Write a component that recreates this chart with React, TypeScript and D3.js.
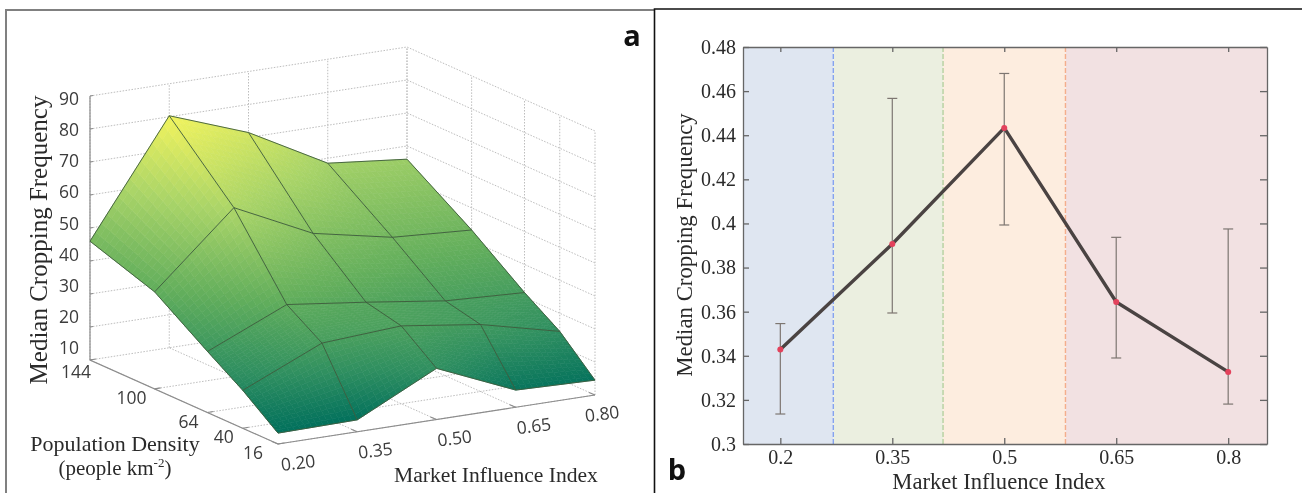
import React, { useEffect, useRef } from 'react';
import * as d3 from 'd3';

// panel a
const marketTicks = [0.2, 0.35, 0.5, 0.65, 0.8];
const densityTicks = [144, 100, 64, 40, 16];
const heightTicks = [10, 20, 30, 40, 50, 60, 70, 80, 90];
const cropping144 = [46, 80.3, 71.5, 58.5, 56];
const cropping100 = [39.4, 61.2, 49.7, 44.8, 43.3];
const cropping64 = [28.5, 39, 36, 32.7, 31.5];
const cropping40 = [21.5, 32.1, 33.6, 30.3, 24.5];
const cropping16 = [13.3, 13.6, 25.5, 15.2, 14.5];
const surfaceRows = [cropping144, cropping100, cropping64, cropping40, cropping16];

// panel b
const medianX = [0.2, 0.35, 0.5, 0.65, 0.8];
const medianY = [0.3428, 0.3907, 0.4433, 0.3644, 0.3327];
const upperY = [0.3546, 0.4567, 0.468, 0.3937, 0.3975];
const lowerY = [0.3136, 0.3594, 0.3993, 0.339, 0.3181];
const yTicksB = [0.3, 0.32, 0.34, 0.36, 0.38, 0.4, 0.42, 0.44, 0.46, 0.48];
const bandEdges = [0.15, 0.271, 0.418, 0.582, 0.852];
const bandFills = ['#dfe6f1', '#ebefe0', '#fdeddf', '#f2e1e2'];
const bandDashes = ['#86a3f0', '#b5d0a0', '#f4ae8c'];

const SERIF = '"Liberation Serif", serif';
const SANS = '"Open Sans", sans-serif';

const App: React.FC = () => {
   const svgRef = useRef<SVGSVGElement | null>(null);

   useEffect(() => {
      if (!svgRef.current) return;
      const svg = d3.select(svgRef.current);
      svg.selectAll('*').remove();

      // frames
      svg.append('path').attr('d', 'M6,493V10H655').attr('fill', 'none').attr('stroke', '#808080').attr('stroke-width', 2);
      svg.append('path').attr('d', 'M654.5,493V9H1302').attr('fill', 'none').attr('stroke', '#111').attr('stroke-width', 1.6);

      drawSurfacePanel(svg.append('g'));
      drawLinePanel(svg.append('g'));
   }, []);

   // the source is a soft raster, hence the slight blur
   return (
      <svg
         ref={svgRef}
         width={1302}
         height={493}
         style={{ position: 'absolute', left: 0, top: 0, background: 'white', filter: 'blur(0.4px)' }}
      />
   );
};

function drawSurfacePanel(g: d3.Selection<SVGGElement, unknown, null, undefined>) {
   // oblique projection, the three box edges leaving the front floor corner
   const origin = { x: 278, y: 444 };
   const alongX = { x: 317, y: -49 };
   const alongY = { x: -188, y: -84 };

   const fx = d3.scaleLinear().domain([0.2, 0.8]).range([0, 1]);
   const fy = d3.scaleLinear().domain([16, 144]).range([0, 1]);
   const fz = d3.scaleLinear().domain([10, 90]).range([0, -264]);

   const project = (x: number, y: number, z: number): [number, number] => [
      origin.x + alongX.x * fx(x) + alongY.x * fy(y),
      origin.y + alongX.y * fx(x) + alongY.y * fy(y) + fz(z),
   ];

   const line = d3.line();
   const dotted = (pts: [number, number][]) =>
      g.append('path')
         .attr('d', line(pts))
         .attr('fill', 'none')
         .attr('stroke', '#bdbdbd')
         .attr('stroke-width', 1)
         .attr('stroke-dasharray', '1.5,1.5');

   // dotted box grid
   heightTicks.slice(1).forEach(z => {
      dotted([project(0.2, 144, z), project(0.8, 144, z), project(0.8, 16, z)]);
   });
   marketTicks.forEach(x => {
      dotted([project(x, 144, 10), project(x, 144, 90)]);
      dotted([project(x, 16, 10), project(x, 144, 10)]);
   });
   densityTicks.forEach(y => {
      dotted([project(0.8, y, 10), project(0.8, y, 90)]);
      dotted([project(0.2, y, 10), project(0.8, y, 10)]);
   });

   // solid axes
   const axisPath = (pts: [number, number][]) =>
      g.append('path')
         .attr('d', line(pts))
         .attr('fill', 'none')
         .attr('stroke', '#8c8c8c')
         .attr('stroke-width', 1.2);
   axisPath([project(0.2, 144, 90), project(0.2, 144, 10), project(0.2, 16, 10), project(0.8, 16, 10)]);
   heightTicks.forEach(z => {
      const [px, py] = project(0.2, 144, z);
      axisPath([[px - 0, py], [px + 3, py - 0.5]]);
   });
   marketTicks.forEach(x => {
      const [px, py] = project(x, 16, 10);
      axisPath([[px, py], [px - 6, py - 2.5]]);
   });
   densityTicks.forEach(y => {
      const [px, py] = project(0.2, y, 10);
      axisPath([[px, py], [px + 6, py - 1]]);
   });

   // summer style colour ramp on the surface height
   const colour = d3.scaleLinear<string>()
      .domain([13, 25, 40, 60, 80])
      .range(['#006f5c', '#2f8f60', '#62ae5c', '#a9d468', '#f1f35e'])
      .clamp(true);

   // shaded cells, back row first, each cell split so the colour runs smoothly
   const steps = 14;
   const surface = g.append('g');
   for (let r = 0; r < densityTicks.length - 1; r++) {
      for (let c = 0; c < marketTicks.length - 1; c++) {
         const corner = (u: number, v: number): [number, number, number] => {
            const x = marketTicks[c] + (marketTicks[c + 1] - marketTicks[c]) * u;
            const y = densityTicks[r] + (densityTicks[r + 1] - densityTicks[r]) * v;
            const z = d3.interpolateNumber(
               d3.interpolateNumber(surfaceRows[r][c], surfaceRows[r][c + 1])(u),
               d3.interpolateNumber(surfaceRows[r + 1][c], surfaceRows[r + 1][c + 1])(u),
            )(v);
            return [x, y, z];
         };
         for (let i = 0; i < steps; i++) {
            for (let j = 0; j < steps; j++) {
               const a = corner(i / steps, j / steps);
               const b = corner((i + 1) / steps, j / steps);
               const d = corner((i + 1) / steps, (j + 1) / steps);
               const e = corner(i / steps, (j + 1) / steps);
               const fill = colour((a[2] + b[2] + d[2] + e[2]) / 4);
               surface.append('path')
                  .attr('d', line([a, b, d, e].map(p => project(p[0], p[1], p[2]))) + 'Z')
                  .attr('fill', fill)
                  .attr('stroke', fill)
                  .attr('stroke-width', 0.6);
            }
         }
      }
   }

   // mesh lines
   const mesh = (pts: [number, number][]) =>
      g.append('path')
         .attr('d', line(pts))
         .attr('fill', 'none')
         .attr('stroke', '#3d5a3c')
         .attr('stroke-opacity', 0.9)
         .attr('stroke-width', 1);
   densityTicks.forEach((y, r) => {
      mesh(marketTicks.map((x, c) => project(x, y, surfaceRows[r][c])));
   });
   marketTicks.forEach((x, c) => {
      mesh(densityTicks.map((y, r) => project(x, y, surfaceRows[r][c])));
   });

   // tick labels
   const sansLabel = (x: number, y: number, txt: string, rotate = 0) =>
      g.append('text')
         .attr('transform', `translate(${x},${y}) rotate(${rotate})`)
         .attr('text-anchor', 'middle')
         .attr('dominant-baseline', 'central')
         .attr('font-family', SANS)
         .attr('font-size', 17.5)
         .attr('fill', '#3c3c3c')
         .text(txt);

   const heightLabel = d3.scaleLinear().domain([10, 90]).range([347, 98]);
   heightTicks.forEach(z => sansLabel(69, heightLabel(z), String(z)));

   const densityDx: Record<number, number> = { 144: -14, 100: -23, 64: -19, 40: -19, 16: -25 };
   densityTicks.forEach(y => {
      const [px, py] = project(0.2, y, 10);
      sansLabel(px + densityDx[y], py + (y === 144 ? 11 : 8), String(y));
   });
   marketTicks.forEach(x => {
      const [px, py] = project(x, 16, 10);
      sansLabel(px + (x === 0.8 ? 7 : x === 0.2 ? 20 : 18), py + 18, x.toFixed(2), -7);
   });

   // titles
   const serifLabel = (x: number, y: number, txt: string, size: number, rotate = 0) =>
      g.append('text')
         .attr('transform', `translate(${x},${y}) rotate(${rotate})`)
         .attr('text-anchor', 'middle')
         .attr('dominant-baseline', 'central')
         .attr('font-family', SERIF)
         .attr('font-size', size)
         .attr('fill', '#2a2a2a')
         .text(txt);

   serifLabel(38, 240, 'Median Cropping Frequency', 25, -90);
   serifLabel(115, 443, 'Population Density', 22);
   const people = serifLabel(115, 468, '(people km', 21);
   people.append('tspan').attr('font-size', 13).attr('dy', -6).text('-2');
   people.append('tspan').attr('dy', 6).text(')');
   serifLabel(496, 475, 'Market Influence Index', 21.6);

   g.append('text')
      .attr('x', 632)
      .attr('y', 46)
      .attr('text-anchor', 'middle')
      .attr('font-family', SANS)
      .attr('font-weight', 700)
      .attr('font-size', 29)
      .attr('fill', '#111')
      .text('a');
}

function drawLinePanel(g: d3.Selection<SVGGElement, unknown, null, undefined>) {
   const left = 743;
   const right = 1267;
   const top = 47;
   const bottom = 444;

   const x = d3.scaleLinear().domain([bandEdges[0], bandEdges[bandEdges.length - 1]]).range([left, right]);
   const y = d3.scaleLinear().domain([0.3, 0.48]).range([bottom, top]);

   // shaded bands
   bandFills.forEach((fill, i) => {
      g.append('rect')
         .attr('x', x(bandEdges[i]))
         .attr('y', top)
         .attr('width', x(bandEdges[i + 1]) - x(bandEdges[i]))
         .attr('height', bottom - top)
         .attr('fill', fill);
   });
   bandDashes.forEach((stroke, i) => {
      g.append('line')
         .attr('x1', x(bandEdges[i + 1]))
         .attr('x2', x(bandEdges[i + 1]))
         .attr('y1', top)
         .attr('y2', bottom)
         .attr('stroke', stroke)
         .attr('stroke-width', 1.4)
         .attr('stroke-dasharray', '5,2');
   });

   // error bars
   medianX.forEach((mx, i) => {
      const px = x(mx);
      const bar = g.append('g').attr('stroke', '#7d7671').attr('stroke-width', 1.2);
      bar.append('line').attr('x1', px).attr('x2', px).attr('y1', y(upperY[i])).attr('y2', y(lowerY[i]));
      [upperY[i], lowerY[i]].forEach(v => {
         bar.append('line').attr('x1', px - 5).attr('x2', px + 5).attr('y1', y(v)).attr('y2', y(v));
      });
   });

   // median line
   const path = d3.line<number>().x((_, i) => x(medianX[i])).y(d => y(d));
   g.append('path')
      .attr('d', path(medianY))
      .attr('fill', 'none')
      .attr('stroke', '#4a4342')
      .attr('stroke-width', 3.4);
   medianY.forEach((v, i) => {
      g.append('circle').attr('cx', x(medianX[i])).attr('cy', y(v)).attr('r', 3).attr('fill', '#e3425c');
   });

   // axes
   const style = (a: d3.Selection<SVGGElement, unknown, null, undefined>) => {
      a.attr('color', '#666').attr('font-family', SERIF).attr('font-size', 20);
      a.selectAll('.tick text').attr('fill', '#2a2a2a');
      a.selectAll('path, line').attr('stroke-width', 1.3);
   };
   const bottomAxis = g.append('g').attr('transform', `translate(0,${bottom})`)
      .call(d3.axisBottom(x).tickValues(medianX).tickFormat(d => String(d)).tickSize(-6).tickSizeOuter(0).tickPadding(6));
   const topAxis = g.append('g').attr('transform', `translate(0,${top})`)
      .call(d3.axisTop(x).tickValues(medianX).tickFormat(() => '').tickSize(-5).tickSizeOuter(0));
   const leftAxis = g.append('g').attr('transform', `translate(${left},0)`)
      .call(d3.axisLeft(y).tickValues(yTicksB).tickFormat(d => String(d)).tickSize(-6).tickSizeOuter(0).tickPadding(7));
   const rightAxis = g.append('g').attr('transform', `translate(${right},0)`)
      .call(d3.axisRight(y).tickValues(yTicksB).tickFormat(() => '').tickSize(-7).tickSizeOuter(0));
   [bottomAxis, topAxis, leftAxis, rightAxis].forEach(style);

   // titles
   g.append('text')
      .attr('transform', 'translate(684,245) rotate(-90)')
      .attr('text-anchor', 'middle')
      .attr('dominant-baseline', 'central')
      .attr('font-family', SERIF)
      .attr('font-size', 22.8)
      .attr('fill', '#2a2a2a')
      .text('Median Cropping Frequency');
   g.append('text')
      .attr('x', 999)
      .attr('y', 481)
      .attr('text-anchor', 'middle')
      .attr('dominant-baseline', 'central')
      .attr('font-family', SERIF)
      .attr('font-size', 22.6)
      .attr('fill', '#2a2a2a')
      .text('Market Influence Index');
   g.append('text')
      .attr('x', 677)
      .attr('y', 480)
      .attr('text-anchor', 'middle')
      .attr('font-family', SANS)
      .attr('font-weight', 700)
      .attr('font-size', 29)
      .attr('fill', '#111')
      .text('b');
}

export default App;
